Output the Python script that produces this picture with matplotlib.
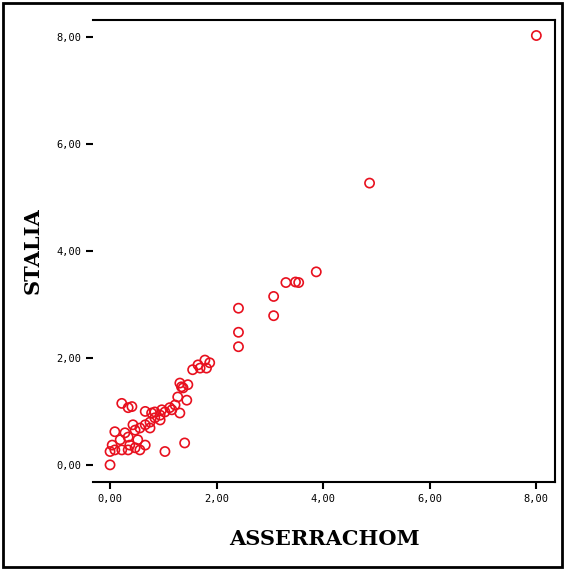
import matplotlib
import matplotlib.pyplot as plt
from matplotlib.patches import Rectangle
from matplotlib.ticker import FixedLocator, FuncFormatter

matplotlib.use("Agg")

# Points
asserrachom = [
    8.00, 4.87, 3.87, 3.54, 3.48, 3.30, 3.07, 3.07, 2.41, 2.41,
    2.41, 1.78, 1.87, 1.65, 1.55, 1.81, 1.69, 1.31, 1.46, 1.37,
    1.34, 1.44, 1.31, 1.40, 1.03, 0.00, 0.00, 0.09, 0.22, 0.34,
    0.47, 0.56, 0.04, 0.37, 0.22, 0.41, 0.34, 0.09, 0.28, 0.66,
    0.78, 0.34, 0.47, 0.56, 0.66, 0.75, 0.84, 0.94, 1.03, 1.12,
    1.22, 1.16, 0.94, 0.75, 0.52, 0.66, 0.19, 1.27, 0.43, 0.84,
    0.97,
]
stalia = [
    8.03, 5.27, 3.61, 3.41, 3.42, 3.41, 3.15, 2.79, 2.93, 2.48,
    2.21, 1.96, 1.91, 1.87, 1.78, 1.81, 1.81, 1.53, 1.50, 1.44,
    1.46, 1.21, 0.97, 0.41, 0.25, 0.00, 0.25, 0.28, 0.28, 0.28,
    0.32, 0.28, 0.37, 0.37, 1.15, 1.09, 1.07, 0.62, 0.60, 1.00,
    0.97, 0.52, 0.65, 0.69, 0.75, 0.80, 0.88, 0.93, 0.99, 1.07,
    1.12, 1.03, 0.84, 0.69, 0.47, 0.37, 0.47, 1.27, 0.75, 0.99,
    1.03,
]
tick_values = [0, 2, 4, 6, 8]

fig = plt.figure(figsize=(5.65, 5.70), dpi=100)
ax = fig.add_axes([0.1646, 0.1544, 0.8177, 0.8105])

ax.scatter(asserrachom, stalia, s=44, facecolors="none", edgecolors="#e8101e", linewidths=1.2)

ax.set_xlim(-0.32, 8.35)
ax.set_ylim(-0.32, 8.32)

# SPSS style comma decimals
comma = FuncFormatter(lambda v, pos: f"{v:.2f}".replace(".", ","))
for axis in (ax.xaxis, ax.yaxis):
    axis.set_major_locator(FixedLocator(tick_values))
    axis.set_major_formatter(comma)

ax.spines["left"].set_visible(False)
for side in ("top", "right", "bottom"):
    ax.spines[side].set_linewidth(1.5)
ax.tick_params(axis="both", direction="out", length=5, width=1.5, labelsize=7.5)
for lab in ax.get_xticklabels() + ax.get_yticklabels():
    lab.set_family("DejaVu Sans Mono")

ax.set_xlabel("ASSERRACHOM", fontsize=15, fontweight="bold", family="DejaVu Serif", labelpad=18)
ax.set_ylabel("STALIA", fontsize=15, fontweight="bold", family="DejaVu Serif", labelpad=10)

# Outer frame round the whole picture
fig.patches.append(
    Rectangle((0.006, 0.006), 0.988, 0.988, transform=fig.transFigure,
              fill=False, edgecolor="black", linewidth=2)
)

fig.savefig("out.png", dpi=100)
